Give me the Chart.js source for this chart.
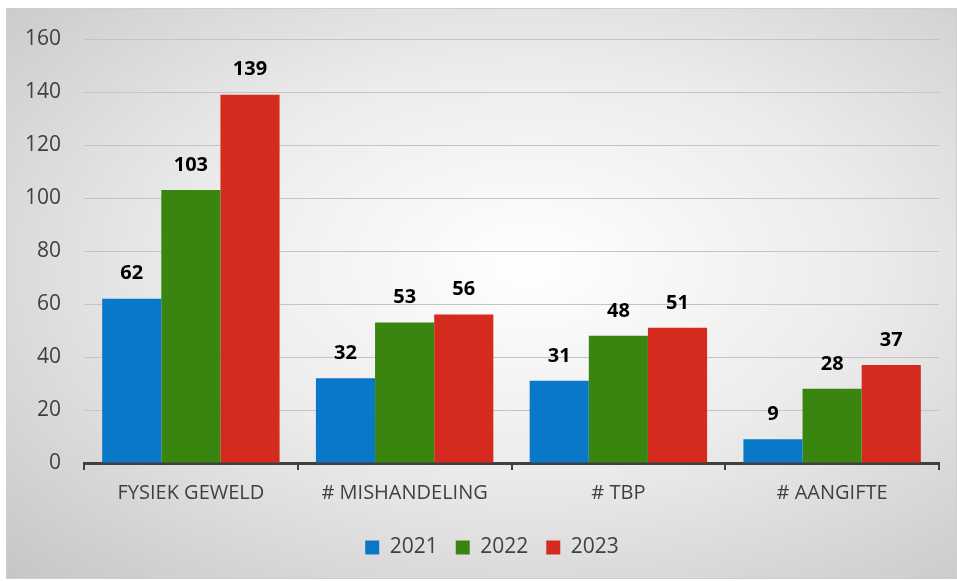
<!DOCTYPE html>
<html>
<head>
<meta charset="utf-8">
<script src="https://cdn.jsdelivr.net/npm/chart.js@4.4.1/dist/chart.umd.min.js"></script>
<style>
  body { margin: 0; background: #fff; }
  #box {
    position: absolute; left: 6px; top: 8px;
    width: 949px; height: 569px;
    border: 1px solid #cfcfcf;
    background: radial-gradient(ellipse at 55% 45%, #ffffff 0%, #ececec 45%, #c6c6c6 100%);
  }
  #c { display: block; }
</style>
</head>
<body>
<div id="box"><canvas id="c" width="949" height="569"></canvas></div>
<script>
const categories = ["FYSIEK GEWELD", "# MISHANDELING", "# TBP", "# AANGIFTE"];
const years = ["2021", "2022", "2023"];
const values2021 = [62, 32, 31, 9];
const values2022 = [103, 53, 48, 28];
const values2023 = [139, 56, 51, 37];
const colors = ["#0a78c8", "#3a8510", "#d52b1e"];

const fontName = "'Open Sans', 'Noto Sans', sans-serif";

// draws the bold numbers above every bar
const barLabels = {
  id: 'barLabels',
  afterDatasetsDraw(chart) {
    const ctx = chart.ctx;
    ctx.save();
    ctx.font = "bold 20px " + fontName;
    ctx.fillStyle = "#000";
    ctx.textAlign = "center";
    ctx.textBaseline = "middle";
    chart.data.datasets.forEach((ds, i) => {
      chart.getDatasetMeta(i).data.forEach((bar, j) => {
        ctx.fillText(ds.data[j], bar.x, bar.y - 25);
      });
    });
    ctx.restore();
  }
};

// legend sits a bit right of the canvas centre in the original
const legendShift = {
  id: 'legendShift',
  afterLayout(chart) {
    chart.legend.left += 19;
    chart.legend.right += 19;
  }
};

new Chart(document.getElementById('c'), {
  type: 'bar',
  data: {
    labels: categories,
    datasets: [
      { label: years[0], data: values2021, backgroundColor: colors[0] },
      { label: years[1], data: values2022, backgroundColor: colors[1] },
      { label: years[2], data: values2023, backgroundColor: colors[2] }
    ]
  },
  options: {
    responsive: false,
    animation: false,
    layout: { padding: { top: 30, right: 17, left: 0, bottom: 10 } },
    datasets: {
      bar: { barPercentage: 1, categoryPercentage: 0.83 }
    },
    scales: {
      x: {
        offset: true,
        afterFit(scale) { scale.height += 3; },
        grid: { offset: true, drawOnChartArea: false, drawTicks: true, tickLength: 7, color: '#404040', lineWidth: 2 },
        border: { display: true, color: '#404040', width: 3 },
        ticks: { color: '#404040', font: { family: fontName, size: 20 }, padding: 11 }
      },
      y: {
        min: 0, max: 160,
        afterFit(scale) { scale.width = 77; scale.paddingTop = 0; scale.paddingBottom = 0; },
        grid: { color: '#c4c4c4', lineWidth: 1, drawTicks: false },
        border: { display: false },
        ticks: { stepSize: 20, color: '#404040', font: { family: fontName, size: 21 }, padding: 23 }
      }
    },
    plugins: {
      legend: {
        position: 'bottom',
        labels: {
          boxWidth: 14, boxHeight: 14, padding: 18,
          color: '#404040', font: { family: fontName, size: 21 }
        }
      },
      tooltip: { enabled: false }
    }
  },
  plugins: [barLabels, legendShift]
});
</script>
</body>
</html>
